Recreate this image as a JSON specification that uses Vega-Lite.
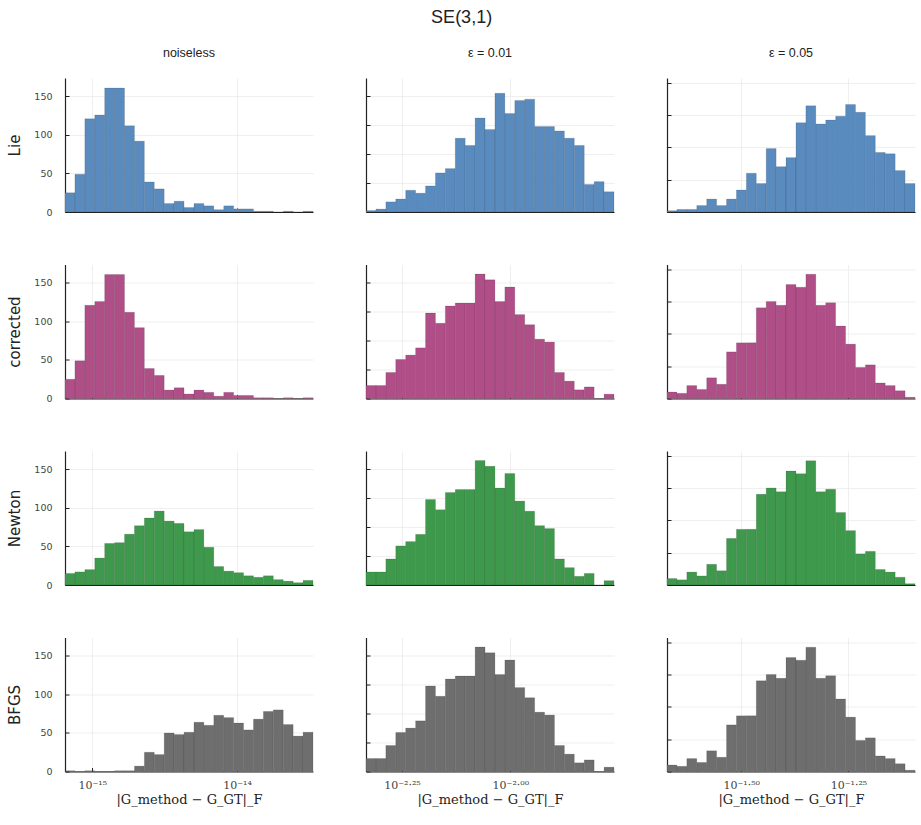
{
  "$schema": "https://vega.github.io/schema/vega-lite/v6.json",
  "background": "white",
  "padding": {"left": 7, "top": 8, "right": 5, "bottom": 5},
  "title": {"text": "SE(3,1)", "fontSize": 18, "font": "Liberation Sans", "fontWeight": "normal", "color": "#222", "anchor": "middle", "offset": 20},
  "config": {
    "view": {"stroke": null},
    "font": "Liberation Sans",
    "axis": {"grid": true, "gridColor": "#ebebeb", "gridWidth": 0.8, "domainColor": "#222", "domainWidth": 1.2, "tickColor": "#222", "tickSize": -4, "tickWidth": 1, "labelColor": "#444", "labelFont": "DejaVu Sans", "labelFontSize": 9.5, "labelPadding": 17, "titleFont": "DejaVu Sans", "titleFontWeight": "normal", "titleColor": "#222", "titleFontSize": 15, "titlePadding": 11},
    "title": {"fontSize": 12.5, "fontWeight": "normal", "color": "#222", "offset": 19},
    "bar": {"stroke": "#000", "strokeOpacity": 0.15, "strokeWidth": 0.8}
  },
  "datasets": {
    "c1_lie": [
      {"lo":-15.188,"hi":-15.1195,"count":25},{"lo":-15.1195,"hi":-15.051,"count":49},{"lo":-15.051,"hi":-14.9826,"count":121},{"lo":-14.9826,"hi":-14.9141,"count":126},{"lo":-14.9141,"hi":-14.8456,"count":161},{"lo":-14.8456,"hi":-14.7771,"count":161},{"lo":-14.7771,"hi":-14.7086,"count":112},{"lo":-14.7086,"hi":-14.6402,"count":92},{"lo":-14.6402,"hi":-14.5717,"count":39},{"lo":-14.5717,"hi":-14.5032,"count":30},{"lo":-14.5032,"hi":-14.4347,"count":11},{"lo":-14.4347,"hi":-14.3662,"count":14},{"lo":-14.3662,"hi":-14.2978,"count":6},{"lo":-14.2978,"hi":-14.2293,"count":11},{"lo":-14.2293,"hi":-14.1608,"count":8},{"lo":-14.1608,"hi":-14.0923,"count":3},{"lo":-14.0923,"hi":-14.0238,"count":8},{"lo":-14.0238,"hi":-13.9554,"count":4},{"lo":-13.9554,"hi":-13.8869,"count":4},{"lo":-13.8869,"hi":-13.8184,"count":1},{"lo":-13.8184,"hi":-13.7499,"count":1},{"lo":-13.7499,"hi":-13.6814,"count":0},{"lo":-13.6814,"hi":-13.613,"count":1},{"lo":-13.613,"hi":-13.5445,"count":0},{"lo":-13.5445,"hi":-13.476,"count":1}
    ],
    "c1_newton": [
      {"lo":-15.188,"hi":-15.1195,"count":15},{"lo":-15.1195,"hi":-15.051,"count":17},{"lo":-15.051,"hi":-14.9826,"count":20},{"lo":-14.9826,"hi":-14.9141,"count":35},{"lo":-14.9141,"hi":-14.8456,"count":54},{"lo":-14.8456,"hi":-14.7771,"count":55},{"lo":-14.7771,"hi":-14.7086,"count":66},{"lo":-14.7086,"hi":-14.6402,"count":77},{"lo":-14.6402,"hi":-14.5717,"count":87},{"lo":-14.5717,"hi":-14.5032,"count":96},{"lo":-14.5032,"hi":-14.4347,"count":83},{"lo":-14.4347,"hi":-14.3662,"count":80},{"lo":-14.3662,"hi":-14.2978,"count":69},{"lo":-14.2978,"hi":-14.2293,"count":72},{"lo":-14.2293,"hi":-14.1608,"count":49},{"lo":-14.1608,"hi":-14.0923,"count":24},{"lo":-14.0923,"hi":-14.0238,"count":18},{"lo":-14.0238,"hi":-13.9554,"count":16},{"lo":-13.9554,"hi":-13.8869,"count":12},{"lo":-13.8869,"hi":-13.8184,"count":10},{"lo":-13.8184,"hi":-13.7499,"count":12},{"lo":-13.7499,"hi":-13.6814,"count":7},{"lo":-13.6814,"hi":-13.613,"count":5},{"lo":-13.613,"hi":-13.5445,"count":3},{"lo":-13.5445,"hi":-13.476,"count":6}
    ],
    "c1_bfgs": [
      {"lo":-15.188,"hi":-15.1195,"count":1},{"lo":-15.1195,"hi":-15.051,"count":0},{"lo":-15.051,"hi":-14.9826,"count":1},{"lo":-14.9826,"hi":-14.9141,"count":0},{"lo":-14.9141,"hi":-14.8456,"count":0},{"lo":-14.8456,"hi":-14.7771,"count":1},{"lo":-14.7771,"hi":-14.7086,"count":1},{"lo":-14.7086,"hi":-14.6402,"count":7},{"lo":-14.6402,"hi":-14.5717,"count":25},{"lo":-14.5717,"hi":-14.5032,"count":22},{"lo":-14.5032,"hi":-14.4347,"count":50},{"lo":-14.4347,"hi":-14.3662,"count":48},{"lo":-14.3662,"hi":-14.2978,"count":51},{"lo":-14.2978,"hi":-14.2293,"count":64},{"lo":-14.2293,"hi":-14.1608,"count":60},{"lo":-14.1608,"hi":-14.0923,"count":73},{"lo":-14.0923,"hi":-14.0238,"count":70},{"lo":-14.0238,"hi":-13.9554,"count":63},{"lo":-13.9554,"hi":-13.8869,"count":54},{"lo":-13.8869,"hi":-13.8184,"count":68},{"lo":-13.8184,"hi":-13.7499,"count":78},{"lo":-13.7499,"hi":-13.6814,"count":80},{"lo":-13.6814,"hi":-13.613,"count":61},{"lo":-13.613,"hi":-13.5445,"count":46},{"lo":-13.5445,"hi":-13.476,"count":51}
    ],
    "c2_lie": [
      {"lo":-2.333,"hi":-2.3101,"count":1},{"lo":-2.3101,"hi":-2.2872,"count":2},{"lo":-2.2872,"hi":-2.2644,"count":7},{"lo":-2.2644,"hi":-2.2415,"count":9},{"lo":-2.2415,"hi":-2.2186,"count":15},{"lo":-2.2186,"hi":-2.1957,"count":13},{"lo":-2.1957,"hi":-2.1728,"count":18},{"lo":-2.1728,"hi":-2.15,"count":27},{"lo":-2.15,"hi":-2.1271,"count":30},{"lo":-2.1271,"hi":-2.1042,"count":51},{"lo":-2.1042,"hi":-2.0813,"count":46},{"lo":-2.0813,"hi":-2.0584,"count":65},{"lo":-2.0584,"hi":-2.0356,"count":57},{"lo":-2.0356,"hi":-2.0127,"count":82},{"lo":-2.0127,"hi":-1.9898,"count":68},{"lo":-1.9898,"hi":-1.9669,"count":77},{"lo":-1.9669,"hi":-1.944,"count":78},{"lo":-1.944,"hi":-1.9212,"count":59},{"lo":-1.9212,"hi":-1.8983,"count":59},{"lo":-1.8983,"hi":-1.8754,"count":56},{"lo":-1.8754,"hi":-1.8525,"count":51},{"lo":-1.8525,"hi":-1.8296,"count":46},{"lo":-1.8296,"hi":-1.8068,"count":19},{"lo":-1.8068,"hi":-1.7839,"count":21},{"lo":-1.7839,"hi":-1.761,"count":14}
    ],
    "c2_other": [
      {"lo":-2.333,"hi":-2.3101,"count":9},{"lo":-2.3101,"hi":-2.2872,"count":9},{"lo":-2.2872,"hi":-2.2644,"count":18},{"lo":-2.2644,"hi":-2.2415,"count":27},{"lo":-2.2415,"hi":-2.2186,"count":30},{"lo":-2.2186,"hi":-2.1957,"count":35},{"lo":-2.1957,"hi":-2.1728,"count":59},{"lo":-2.1728,"hi":-2.15,"count":52},{"lo":-2.15,"hi":-2.1271,"count":64},{"lo":-2.1271,"hi":-2.1042,"count":66},{"lo":-2.1042,"hi":-2.0813,"count":66},{"lo":-2.0813,"hi":-2.0584,"count":86},{"lo":-2.0584,"hi":-2.0356,"count":82},{"lo":-2.0356,"hi":-2.0127,"count":67},{"lo":-2.0127,"hi":-1.9898,"count":77},{"lo":-1.9898,"hi":-1.9669,"count":58},{"lo":-1.9669,"hi":-1.944,"count":51},{"lo":-1.944,"hi":-1.9212,"count":41},{"lo":-1.9212,"hi":-1.8983,"count":39},{"lo":-1.8983,"hi":-1.8754,"count":18},{"lo":-1.8754,"hi":-1.8525,"count":12},{"lo":-1.8525,"hi":-1.8296,"count":6},{"lo":-1.8296,"hi":-1.8068,"count":8},{"lo":-1.8068,"hi":-1.7839,"count":0},{"lo":-1.7839,"hi":-1.761,"count":3}
    ],
    "c3_lie": [
      {"lo":-1.673,"hi":-1.6499,"count":1},{"lo":-1.6499,"hi":-1.6268,"count":2},{"lo":-1.6268,"hi":-1.6036,"count":2},{"lo":-1.6036,"hi":-1.5805,"count":5},{"lo":-1.5805,"hi":-1.5574,"count":10},{"lo":-1.5574,"hi":-1.5343,"count":5},{"lo":-1.5343,"hi":-1.5112,"count":10},{"lo":-1.5112,"hi":-1.488,"count":17},{"lo":-1.488,"hi":-1.4649,"count":30},{"lo":-1.4649,"hi":-1.4418,"count":22},{"lo":-1.4418,"hi":-1.4187,"count":49},{"lo":-1.4187,"hi":-1.3956,"count":35},{"lo":-1.3956,"hi":-1.3724,"count":42},{"lo":-1.3724,"hi":-1.3493,"count":69},{"lo":-1.3493,"hi":-1.3262,"count":82},{"lo":-1.3262,"hi":-1.3031,"count":68},{"lo":-1.3031,"hi":-1.28,"count":71},{"lo":-1.28,"hi":-1.2568,"count":74},{"lo":-1.2568,"hi":-1.2337,"count":83},{"lo":-1.2337,"hi":-1.2106,"count":77},{"lo":-1.2106,"hi":-1.1875,"count":59},{"lo":-1.1875,"hi":-1.1644,"count":46},{"lo":-1.1644,"hi":-1.1412,"count":45},{"lo":-1.1412,"hi":-1.1181,"count":32},{"lo":-1.1181,"hi":-1.095,"count":22}
    ],
    "c3_other": [
      {"lo":-1.673,"hi":-1.6499,"count":5},{"lo":-1.6499,"hi":-1.6268,"count":4},{"lo":-1.6268,"hi":-1.6036,"count":10},{"lo":-1.6036,"hi":-1.5805,"count":7},{"lo":-1.5805,"hi":-1.5574,"count":16},{"lo":-1.5574,"hi":-1.5343,"count":11},{"lo":-1.5343,"hi":-1.5112,"count":36},{"lo":-1.5112,"hi":-1.488,"count":43},{"lo":-1.488,"hi":-1.4649,"count":43},{"lo":-1.4649,"hi":-1.4418,"count":70},{"lo":-1.4418,"hi":-1.4187,"count":75},{"lo":-1.4187,"hi":-1.3956,"count":72},{"lo":-1.3956,"hi":-1.3724,"count":88},{"lo":-1.3724,"hi":-1.3493,"count":86},{"lo":-1.3493,"hi":-1.3262,"count":96},{"lo":-1.3262,"hi":-1.3031,"count":72},{"lo":-1.3031,"hi":-1.28,"count":74},{"lo":-1.28,"hi":-1.2568,"count":56},{"lo":-1.2568,"hi":-1.2337,"count":42},{"lo":-1.2337,"hi":-1.2106,"count":24},{"lo":-1.2106,"hi":-1.1875,"count":26},{"lo":-1.1875,"hi":-1.1644,"count":12},{"lo":-1.1644,"hi":-1.1412,"count":10},{"lo":-1.1412,"hi":-1.1181,"count":6},{"lo":-1.1181,"hi":-1.095,"count":1}
    ]
  },
  "columns": 3,
  "spacing": {"row": 52.5, "column": 53},
  "bounds": "flush",
  "concat": [
    {"title": "noiseless", "width": 248, "height": 134, "data": {"name": "c1_lie"}, "mark": {"type": "bar", "color": "#5a8bbe"},
     "encoding": {"x": {"field": "lo", "type": "quantitative", "scale": {"domain": [-15.188, -13.476], "nice": false, "zero": false}, "axis": {"values": [-15, -14], "labels": false, "title": null}}, "x2": {"field": "hi"},
                  "y": {"field": "count", "type": "quantitative", "scale": {"domain": [0, 174], "nice": false}, "axis": {"values": [0, 50, 100, 150], "title": "Lie"}}, "y2": {"datum": 0}}},
    {"title": "ε = 0.01", "width": 248, "height": 134, "data": {"name": "c2_lie"}, "mark": {"type": "bar", "color": "#5a8bbe"},
     "encoding": {"x": {"field": "lo", "type": "quantitative", "scale": {"domain": [-2.333, -1.761], "nice": false, "zero": false}, "axis": {"values": [-2.25, -2.0], "labels": false, "title": null}}, "x2": {"field": "hi"},
                  "y": {"field": "count", "type": "quantitative", "scale": {"domain": [0, 92.6], "nice": false}, "axis": {"values": [0, 20, 40, 60, 80], "labels": false, "title": null}}, "y2": {"datum": 0}}},
    {"title": "ε = 0.05", "width": 248, "height": 134, "data": {"name": "c3_lie"}, "mark": {"type": "bar", "color": "#5a8bbe"},
     "encoding": {"x": {"field": "lo", "type": "quantitative", "scale": {"domain": [-1.673, -1.095], "nice": false, "zero": false}, "axis": {"values": [-1.5, -1.25], "labels": false, "title": null}}, "x2": {"field": "hi"},
                  "y": {"field": "count", "type": "quantitative", "scale": {"domain": [0, 103.5], "nice": false}, "axis": {"values": [0, 25, 50, 75, 100], "labels": false, "title": null}}, "y2": {"datum": 0}}},
    {"width": 248, "height": 134, "data": {"name": "c1_lie"}, "mark": {"type": "bar", "color": "#b04e88"},
     "encoding": {"x": {"field": "lo", "type": "quantitative", "scale": {"domain": [-15.188, -13.476], "nice": false, "zero": false}, "axis": {"values": [-15, -14], "labels": false, "title": null}}, "x2": {"field": "hi"},
                  "y": {"field": "count", "type": "quantitative", "scale": {"domain": [0, 174], "nice": false}, "axis": {"values": [0, 50, 100, 150], "title": "corrected"}}, "y2": {"datum": 0}}},
    {"width": 248, "height": 134, "data": {"name": "c2_other"}, "mark": {"type": "bar", "color": "#b04e88"},
     "encoding": {"x": {"field": "lo", "type": "quantitative", "scale": {"domain": [-2.333, -1.761], "nice": false, "zero": false}, "axis": {"values": [-2.25, -2.0], "labels": false, "title": null}}, "x2": {"field": "hi"},
                  "y": {"field": "count", "type": "quantitative", "scale": {"domain": [0, 92.6], "nice": false}, "axis": {"values": [0, 20, 40, 60, 80], "labels": false, "title": null}}, "y2": {"datum": 0}}},
    {"width": 248, "height": 134, "data": {"name": "c3_other"}, "mark": {"type": "bar", "color": "#b04e88"},
     "encoding": {"x": {"field": "lo", "type": "quantitative", "scale": {"domain": [-1.673, -1.095], "nice": false, "zero": false}, "axis": {"values": [-1.5, -1.25], "labels": false, "title": null}}, "x2": {"field": "hi"},
                  "y": {"field": "count", "type": "quantitative", "scale": {"domain": [0, 103.5], "nice": false}, "axis": {"values": [0, 25, 50, 75, 100], "labels": false, "title": null}}, "y2": {"datum": 0}}},
    {"width": 248, "height": 134, "data": {"name": "c1_newton"}, "mark": {"type": "bar", "color": "#3f994c"},
     "encoding": {"x": {"field": "lo", "type": "quantitative", "scale": {"domain": [-15.188, -13.476], "nice": false, "zero": false}, "axis": {"values": [-15, -14], "labels": false, "title": null}}, "x2": {"field": "hi"},
                  "y": {"field": "count", "type": "quantitative", "scale": {"domain": [0, 174], "nice": false}, "axis": {"values": [0, 50, 100, 150], "title": "Newton"}}, "y2": {"datum": 0}}},
    {"width": 248, "height": 134, "data": {"name": "c2_other"}, "mark": {"type": "bar", "color": "#3f994c"},
     "encoding": {"x": {"field": "lo", "type": "quantitative", "scale": {"domain": [-2.333, -1.761], "nice": false, "zero": false}, "axis": {"values": [-2.25, -2.0], "labels": false, "title": null}}, "x2": {"field": "hi"},
                  "y": {"field": "count", "type": "quantitative", "scale": {"domain": [0, 92.6], "nice": false}, "axis": {"values": [0, 20, 40, 60, 80], "labels": false, "title": null}}, "y2": {"datum": 0}}},
    {"width": 248, "height": 134, "data": {"name": "c3_other"}, "mark": {"type": "bar", "color": "#3f994c"},
     "encoding": {"x": {"field": "lo", "type": "quantitative", "scale": {"domain": [-1.673, -1.095], "nice": false, "zero": false}, "axis": {"values": [-1.5, -1.25], "labels": false, "title": null}}, "x2": {"field": "hi"},
                  "y": {"field": "count", "type": "quantitative", "scale": {"domain": [0, 103.5], "nice": false}, "axis": {"values": [0, 25, 50, 75, 100], "labels": false, "title": null}}, "y2": {"datum": 0}}},
    {"width": 248, "height": 134, "data": {"name": "c1_bfgs"}, "mark": {"type": "bar", "color": "#6e6e6e"},
     "encoding": {"x": {"field": "lo", "type": "quantitative", "scale": {"domain": [-15.188, -13.476], "nice": false, "zero": false}, "axis": {"values": [-15, -14], "labelExpr": "datum.value == -15 ? '10⁻¹⁵' : '10⁻¹⁴'", "labelFont": "DejaVu Serif", "labelFontSize": 11, "labelPadding": 12, "title": "|G_method − G_GT|_F", "titleFont": "DejaVu Serif", "titleFontSize": 13, "titlePadding": 3}}, "x2": {"field": "hi"},
                  "y": {"field": "count", "type": "quantitative", "scale": {"domain": [0, 174], "nice": false}, "axis": {"values": [0, 50, 100, 150], "title": "BFGS"}}, "y2": {"datum": 0}}},
    {"width": 248, "height": 134, "data": {"name": "c2_other"}, "mark": {"type": "bar", "color": "#6e6e6e"},
     "encoding": {"x": {"field": "lo", "type": "quantitative", "scale": {"domain": [-2.333, -1.761], "nice": false, "zero": false}, "axis": {"values": [-2.25, -2.0], "labelExpr": "datum.value == -2.25 ? '10⁻²·²⁵' : '10⁻²·⁰⁰'", "labelFont": "DejaVu Serif", "labelFontSize": 11, "labelPadding": 12, "title": "|G_method − G_GT|_F", "titleFont": "DejaVu Serif", "titleFontSize": 13, "titlePadding": 3}}, "x2": {"field": "hi"},
                  "y": {"field": "count", "type": "quantitative", "scale": {"domain": [0, 92.6], "nice": false}, "axis": {"values": [0, 20, 40, 60, 80], "labels": false, "title": null}}, "y2": {"datum": 0}}},
    {"width": 248, "height": 134, "data": {"name": "c3_other"}, "mark": {"type": "bar", "color": "#6e6e6e"},
     "encoding": {"x": {"field": "lo", "type": "quantitative", "scale": {"domain": [-1.673, -1.095], "nice": false, "zero": false}, "axis": {"values": [-1.5, -1.25], "labelExpr": "datum.value == -1.5 ? '10⁻¹·⁵⁰' : '10⁻¹·²⁵'", "labelFont": "DejaVu Serif", "labelFontSize": 11, "labelPadding": 12, "title": "|G_method − G_GT|_F", "titleFont": "DejaVu Serif", "titleFontSize": 13, "titlePadding": 3}}, "x2": {"field": "hi"},
                  "y": {"field": "count", "type": "quantitative", "scale": {"domain": [0, 103.5], "nice": false}, "axis": {"values": [0, 25, 50, 75, 100], "labels": false, "title": null}}, "y2": {"datum": 0}}}
  ]
}
